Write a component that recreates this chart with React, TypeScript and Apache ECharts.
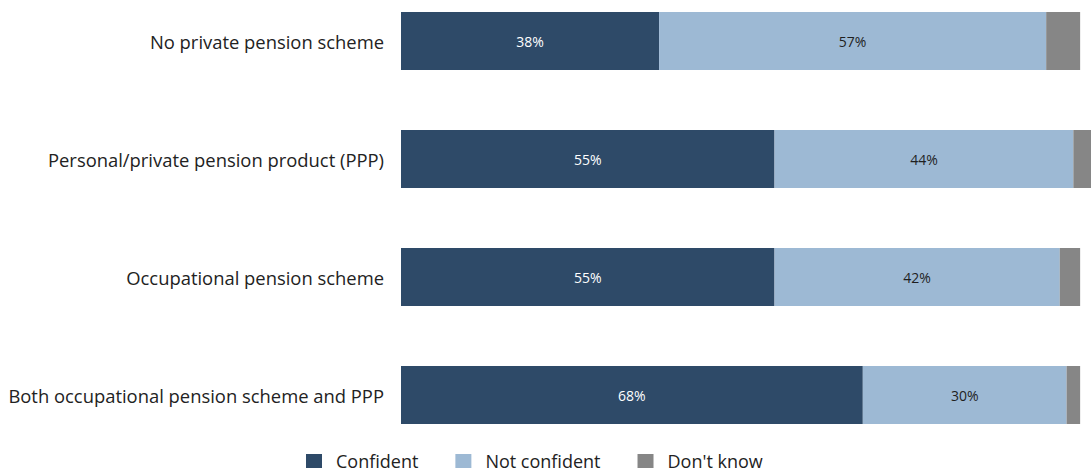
import React, { useEffect, useRef } from "react";
import * as echarts from "echarts";

const categories = [
  "No private pension scheme",
  "Personal/private pension product (PPP)",
  "Occupational pension scheme",
  "Both occupational pension scheme and PPP",
];
const confident = [38, 55, 55, 68];
const notConfident = [57, 44, 42, 30];
const dontKnow = [5, 3, 3, 2];
const seriesNames = ["Confident", "Not confident", "Don't know"];
const colors = ["#2e4a68", "#9db9d4", "#868686"];

export default function App() {
  const ref = useRef<HTMLDivElement>(null);
  useEffect(() => {
    if (!ref.current) return;
    const chart = echarts.init(ref.current, undefined, { renderer: "svg" });
    const font = "'Open Sans', sans-serif";
    const mk = (name: string, data: number[], color: string, labelColor: string | null) => ({
      name,
      type: "bar",
      stack: "total",
      data,
      barWidth: 58,
      itemStyle: { color },
      label: labelColor
        ? {
            show: true,
            position: "inside",
            formatter: "{c}%",
            color: labelColor,
            fontSize: 14,
            fontFamily: font,
          }
        : { show: false },
      emphasis: { disabled: true },
    });
    chart.setOption({
      animation: false,
      grid: { left: 401, right: 0, top: 41, height: 354, containLabel: false },
      xAxis: {
        type: "value",
        min: 0,
        max: 101.6,
        show: false,
      },
      yAxis: {
        type: "category",
        data: categories,
        inverse: true,
        boundaryGap: false,
        axisLine: { show: false },
        axisTick: { show: false },
        splitLine: { show: false },
        axisLabel: { margin: 17, fontSize: 18.4, color: "#222222", fontFamily: font },
      },
      legend: {
        left: 301,
        top: 450,
        padding: [2, 5, 2, 5],
        itemWidth: 16,
        itemHeight: 14,
        itemGap: 37,
        icon: "rect",
        textStyle: { fontSize: 18, color: "#222222", fontFamily: font, padding: [0, 0, 0, 9] },
        data: seriesNames,
      },
      series: [
        mk(seriesNames[0], confident, colors[0], "#ffffff"),
        mk(seriesNames[1], notConfident, colors[1], "#1f1f1f"),
        mk(seriesNames[2], dontKnow, colors[2], null),
      ],
    });
    return () => chart.dispose();
  }, []);
  return (
    <div
      ref={ref}
      style={{ position: "fixed", left: 0, top: 0, width: 1091, height: 475, background: "#fff" }}
    />
  );
}
